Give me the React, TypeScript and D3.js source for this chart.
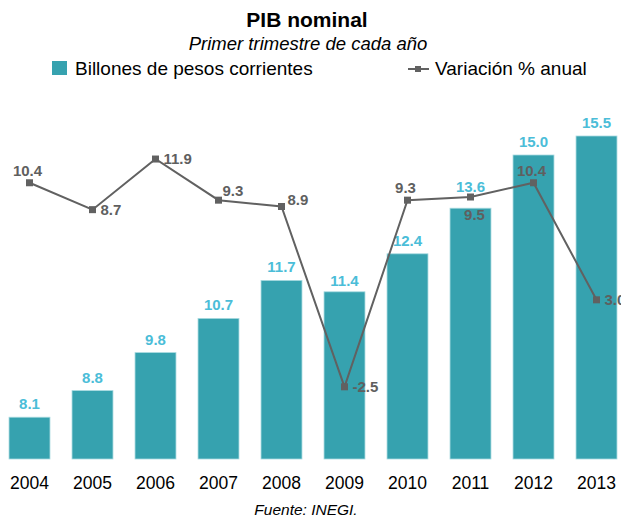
import React, { useRef, useEffect } from "react";
import * as d3 from "d3";

const years = ["2004", "2005", "2006", "2007", "2008", "2009", "2010", "2011", "2012", "2013"];
const billones = [8.1, 8.8, 9.8, 10.7, 11.7, 11.4, 12.4, 13.6, 15.0, 15.5];
const variacion = [10.4, 8.7, 11.9, 9.3, 8.9, -2.5, 9.3, 9.5, 10.4, 3.0];
// where each line label sits relative to its marker
const labelPlace = ["top", "right", "right", "topRight", "rightUp", "right", "top", "bottom", "top", "right"];
// extra lift for bar labels that would collide with the line
const barLabelLift = [0, 0, 0, 0, 0, -2, 0, 8, 0, 0];

const App = () => {
    const ref = useRef<SVGSVGElement>(null);

    useEffect(() => {
        const width = 621;
        const height = 527;
        const font = "'Liberation Sans', Arial, sans-serif";
        const barColor = "#36a2af";
        const barLabelColor = "#4bbdd8";
        const lineColor = "#616161";

        const svg = d3.select(ref.current)
            .attr("width", width)
            .attr("height", height)
            .style("font-family", font);

        svg.selectAll("*").remove();

        const x = d3.scaleBand()
            .domain(years)
            .range([-2, 628])
            .paddingInner(0.35)
            .paddingOuter(0.175);

        const yBar = d3.scaleLinear().domain([7, 16]).range([459, 117]);
        const yLine = d3.scaleLinear().domain([-7, 15]).range([458, 110]);

        const cx = (i: number) => (x(years[i]) as number) + x.bandwidth() / 2;

        // Title
        svg.append("text")
            .attr("x", 307).attr("y", 27)
            .attr("text-anchor", "middle")
            .style("font-size", "21px").style("font-weight", "bold")
            .text("PIB nominal");

        svg.append("text")
            .attr("x", 308).attr("y", 50)
            .attr("text-anchor", "middle")
            .style("font-size", "18.5px").style("font-style", "italic")
            .text("Primer trimestre de cada año");

        // Legend
        svg.append("rect")
            .attr("x", 52).attr("y", 61).attr("width", 15).attr("height", 14)
            .attr("fill", barColor);
        svg.append("text")
            .attr("x", 75).attr("y", 75)
            .style("font-size", "19px")
            .text("Billones de pesos corrientes");

        svg.append("line")
            .attr("x1", 408).attr("x2", 429).attr("y1", 69).attr("y2", 69)
            .attr("stroke", lineColor).attr("stroke-width", 2);
        svg.append("rect")
            .attr("x", 415).attr("y", 66).attr("width", 6).attr("height", 6)
            .attr("fill", lineColor);
        svg.append("text")
            .attr("x", 435).attr("y", 75)
            .style("font-size", "19px")
            .text("Variación % anual");

        // Bars
        svg.selectAll(".bar")
            .data(billones)
            .enter()
            .append("rect")
            .attr("class", "bar")
            .attr("x", (d, i) => x(years[i]) as number)
            .attr("width", x.bandwidth())
            .attr("y", d => yBar(d))
            .attr("height", d => yBar(7) - yBar(d))
            .attr("fill", barColor)
            .attr("stroke", "#a8dae0")
            .attr("stroke-width", 0.8);

        // Bar labels
        svg.selectAll(".bar-label")
            .data(billones)
            .enter()
            .append("text")
            .attr("class", "bar-label")
            .attr("x", (d, i) => cx(i))
            .attr("y", (d, i) => yBar(d) - 8 - barLabelLift[i])
            .attr("text-anchor", "middle")
            .attr("fill", barLabelColor)
            .style("font-size", "15px").style("font-weight", "bold")
            .text(d => d.toFixed(1));

        // X axis labels
        svg.selectAll(".year")
            .data(years)
            .enter()
            .append("text")
            .attr("class", "year")
            .attr("x", (d, i) => cx(i))
            .attr("y", 489)
            .attr("text-anchor", "middle")
            .style("font-size", "17.5px")
            .text(d => d);

        // Line
        const line = d3.line<number>()
            .x((d, i) => cx(i))
            .y(d => yLine(d));

        svg.append("path")
            .datum(variacion)
            .attr("d", line)
            .attr("fill", "none")
            .attr("stroke", lineColor)
            .attr("stroke-width", 2);

        svg.selectAll(".marker")
            .data(variacion)
            .enter()
            .append("rect")
            .attr("class", "marker")
            .attr("x", (d, i) => cx(i) - 3.5)
            .attr("y", d => yLine(d) - 3.5)
            .attr("width", 7).attr("height", 7)
            .attr("fill", lineColor);

        // Line labels
        const offsets: Record<string, [number, number, string]> = {
            top: [-2, -7, "middle"],
            right: [8, 5, "start"],
            topRight: [4, -4, "start"],
            rightUp: [6, -1, "start"],
            bottom: [4, 23, "middle"],
        };

        svg.selectAll(".line-label")
            .data(variacion)
            .enter()
            .append("text")
            .attr("class", "line-label")
            .attr("x", (d, i) => cx(i) + offsets[labelPlace[i]][0])
            .attr("y", (d, i) => yLine(d) + offsets[labelPlace[i]][1])
            .attr("text-anchor", (d, i) => offsets[labelPlace[i]][2])
            .attr("fill", "#5f5f5f")
            .style("font-size", "15px").style("font-weight", "bold")
            .text(d => d.toFixed(1));

        // Source
        svg.append("text")
            .attr("x", 306).attr("y", 515)
            .attr("text-anchor", "middle")
            .style("font-size", "15.5px").style("font-style", "italic")
            .text("Fuente: INEGI.");
    }, []);

    return (
        <div style={{ position: "absolute", left: 0, top: 0 }}>
            <svg ref={ref}></svg>
        </div>
    );
};

export default App;
